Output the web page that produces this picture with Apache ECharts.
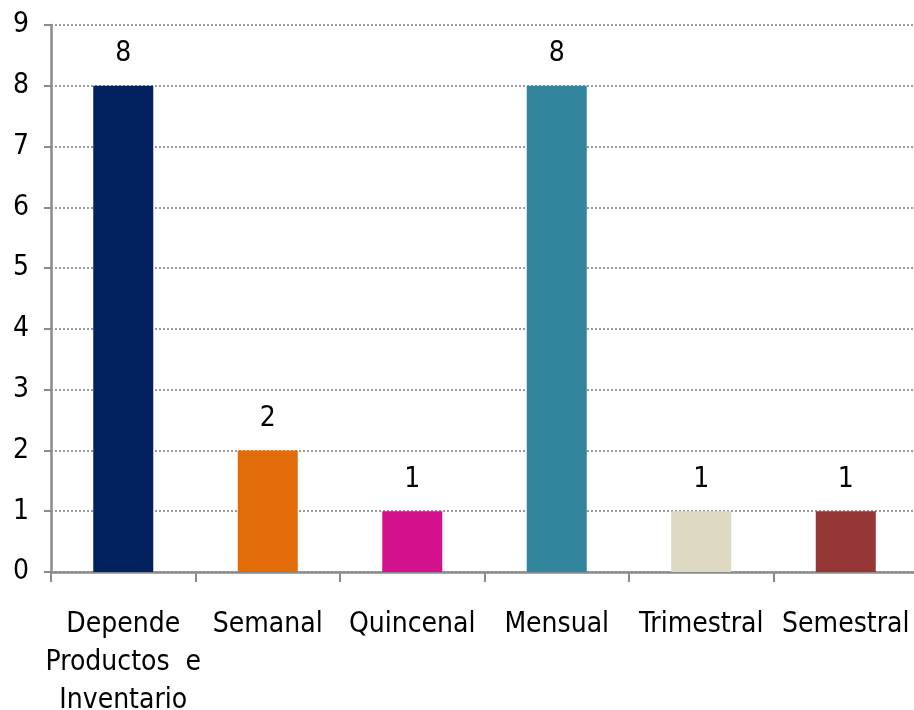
<!DOCTYPE html>
<html>
<head>
<meta charset="utf-8">
<script src="https://cdn.jsdelivr.net/npm/echarts@6/dist/echarts.min.js"></script>
<style>
  html, body { margin: 0; padding: 0; background: #fff; }
  #chart { width: 914px; height: 710px; }
</style>
</head>
<body>
<div id="chart"></div>
<script>
// Frequency categories and their counts
const categories = ['Depende\nProductos  e\nInventario', 'Semanal', 'Quincenal', 'Mensual', 'Trimestral', 'Semestral'];
const values = [8, 2, 1, 8, 1, 1];
const barColors = ['#03215F', '#E36C0A', '#D3118C', '#31859C', '#DDD9C3', '#953735'];
const yTicks = [0, 1, 2, 3, 4, 5, 6, 7, 8, 9];

const FONT = '"DejaVu Sans Condensed", sans-serif';

const chart = echarts.init(document.getElementById('chart'));
chart.setOption({
  animation: false,
  backgroundColor: '#ffffff',
  grid: { left: 51, right: -4, top: 25, bottom: 138, containLabel: false, outerBoundsMode: 'none' },
  xAxis: {
    type: 'category',
    data: categories,
    axisLine: { lineStyle: { color: '#8a8a8a', width: 2.5 } },
    axisTick: { show: true, length: 10, lineStyle: { color: '#8a8a8a', width: 2 } },
    axisLabel: {
      color: '#000', fontFamily: FONT, fontSize: 28, lineHeight: 38,
      margin: 34, interval: 0
    }
  },
  yAxis: {
    type: 'value',
    min: yTicks[0],
    max: yTicks[yTicks.length - 1],
    interval: 1,
    axisLine: { show: true, lineStyle: { color: '#8a8a8a', width: 2.5 } },
    axisTick: { show: true, length: 7, lineStyle: { color: '#8a8a8a', width: 2 } },
    axisLabel: { color: '#000', fontFamily: FONT, fontSize: 28, margin: 22 },
    splitLine: { show: true, lineStyle: { color: '#9a9a9a', type: [2, 2], width: 2 } }
  },
  series: [{
    type: 'bar',
    data: values.map((v, i) => ({ value: v, itemStyle: { color: barColors[i] } })),
    barWidth: 60,
    label: {
      show: true, position: 'top', distance: 18,
      color: '#000', fontFamily: FONT, fontSize: 28
    }
  }]
});
</script>
</body>
</html>
